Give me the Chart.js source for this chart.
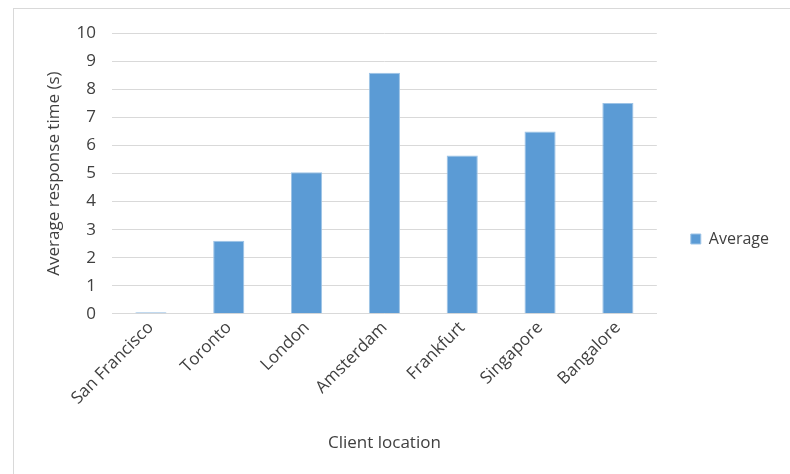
<!DOCTYPE html>
<html>
<head>
<meta charset="utf-8">
<script src="https://cdn.jsdelivr.net/npm/chart.js@4/dist/chart.umd.min.js"></script>
<style>
  html, body { margin: 0; padding: 0; background: #fff; overflow: hidden; }
  #frame {
    position: absolute; left: 13px; top: 8px;
    width: 790px; height: 480px;
    border-left: 1px solid #d9d9d9; border-top: 1px solid #d9d9d9;
  }
  #wrap { position: absolute; left: 0; top: 0; width: 776px; height: 465px; }
</style>
</head>
<body>
<div id="frame">
  <div id="wrap"><canvas id="chart"></canvas></div>
</div>
<script>
// chart values
const locations = ['San Francisco', 'Toronto', 'London', 'Amsterdam', 'Frankfurt', 'Singapore', 'Bangalore'];
const averageTimes = [0.05, 2.6, 5.05, 8.6, 5.65, 6.5, 7.52];
const yTicks = [0, 1, 2, 3, 4, 5, 6, 7, 8, 9, 10];

const textColor = '#404040';
const fontFamily = '"Open Sans", sans-serif';

const ctx = document.getElementById('chart').getContext('2d');
const chart = new Chart(ctx, {
    type: 'bar',
    data: {
        labels: locations,
        datasets: [{
            label: 'Average',
            data: averageTimes,
            backgroundColor: '#5b9bd5',
            borderColor: '#9dc3e6',
            borderWidth: 1,
            barPercentage: 0.8,
            categoryPercentage: 0.5,
        }],
    },
    options: {
        responsive: true,
        maintainAspectRatio: false,
        animation: false,
        layout: {
            padding: { left: 30, right: 11, top: 4, bottom: 21 },
        },
        plugins: {
            tooltip: { enabled: false },
            legend: {
                position: 'right',
                // empty title only pushes the single entry down a little
                title: { display: true, text: '', font: { size: 10 }, padding: 0 },
                labels: {
                    boxWidth: 10,
                    boxHeight: 10,
                    padding: 34,
                    color: textColor,
                    font: { family: fontFamily, size: 16 },
                },
            },
        },
        scales: {
            x: {
                grid: { display: false, drawTicks: false },
                border: { color: '#d9d9d9' },
                ticks: {
                    color: textColor,
                    font: { family: fontFamily, size: 17 },
                    minRotation: 45,
                    maxRotation: 45,
                    padding: 4,
                },
                title: {
                    display: true,
                    text: 'Client location',
                    color: textColor,
                    font: { family: fontFamily, size: 17 },
                    padding: { top: 20, bottom: 0 },
                },
            },
            y: {
                min: 0,
                max: 10,
                afterBuildTicks: axis => {
                    axis.ticks = yTicks.map(v => ({ value: v }));
                },
                afterFit: axis => { axis.width = 68; },
                grid: { color: '#d9d9d9', drawTicks: false },
                border: { display: false },
                ticks: {
                    color: textColor,
                    font: { family: fontFamily, size: 17, lineHeight: 1 },
                    padding: 16,
                },
                title: {
                    display: true,
                    text: 'Average response time (s)',
                    color: textColor,
                    font: { family: fontFamily, size: 17 },
                    padding: 0,
                },
            },
        },
    },
});
</script>
</body>
</html>
